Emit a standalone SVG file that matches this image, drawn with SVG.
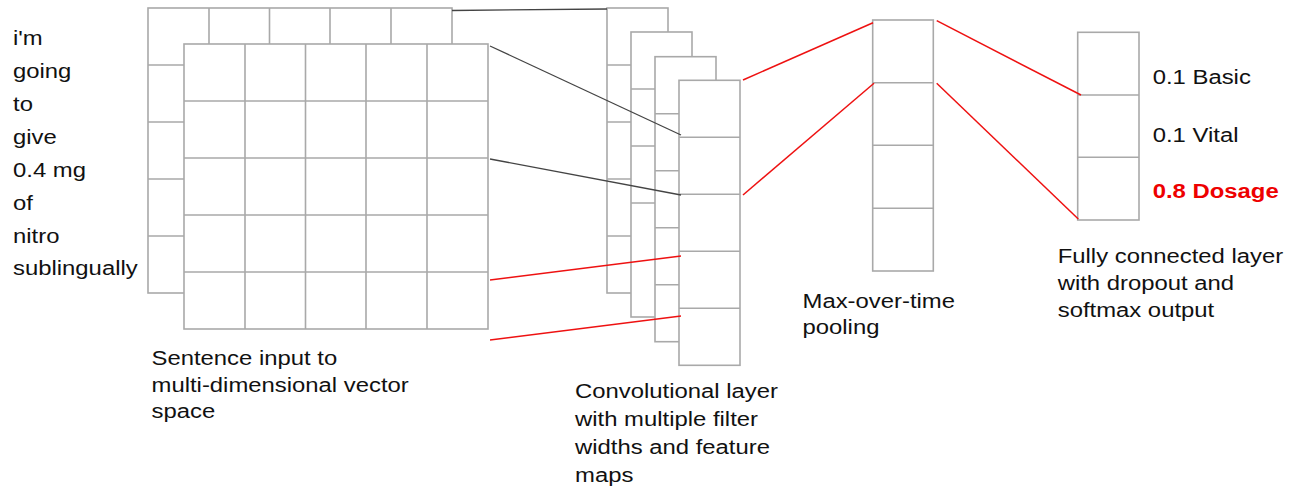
<svg xmlns="http://www.w3.org/2000/svg" width="1298" height="492" viewBox="0 0 1298 492">
<style>
.g{fill:#fff;stroke:#a9a9a9;stroke-width:1.6}
.l{fill:none;stroke:#a9a9a9;stroke-width:1.6}
.t{font-family:"Liberation Sans",Arial,sans-serif;font-size:21px;fill:#111}
.r{font-family:"Liberation Sans",Arial,sans-serif;font-size:21px;font-weight:bold;fill:#ee0000}
.k{stroke:#444;stroke-width:1.3;fill:none}
.e{stroke:#ee1111;stroke-width:1.5;fill:none}
</style>
<rect width="1298" height="492" fill="#fff"/>
<g id="words">
<text class="t" transform="matrix(1.137 0 0 1 13 0)"><tspan x="0" y="45">i'm</tspan><tspan x="0" y="78">going</tspan><tspan x="0" y="111">to</tspan><tspan x="0" y="144">give</tspan><tspan x="0" y="177">0.4 mg</tspan><tspan x="0" y="210">of</tspan><tspan x="0" y="243">nitro</tspan><tspan x="0" y="275.5">sublingually</tspan></text>
</g>
<g id="input">
<rect class="g" x="148" y="8" width="304" height="285"/>
<path class="l" d="M209 8V44M269.5 8V44M330 8V44M391 8V44M148 65H184M148 122H184M148 179H184M148 236H184"/>
<rect class="g" x="184" y="44" width="304" height="285"/>
<path class="l" d="M245 44V329M305.5 44V329M366 44V329M427 44V329M184 101H488M184 158H488M184 215H488M184 272H488"/>
<text class="t" transform="matrix(1.137 0 0 1 151.5 0)"><tspan x="0" y="365">Sentence input to</tspan><tspan x="0" y="391.7">multi-dimensional vector</tspan><tspan x="0" y="418.3">space</tspan></text>
</g>
<g id="conv">
<rect class="g" x="607" y="8" width="61" height="285"/>
<path class="l" d="M607 65H668M607 122H668M607 179H668M607 236H668"/>
<rect class="g" x="631" y="32" width="61" height="285"/>
<path class="l" d="M631 89H692M631 146H692M631 203H692"/>
<rect class="g" x="655" y="56.7" width="61" height="285"/>
<path class="l" d="M655 113.7H716M655 170.7H716M655 227.7H716M655 284.7H716"/>
<rect class="g" x="679" y="80.3" width="61" height="285"/>
<path class="l" d="M679 137.3H740M679 194.3H740M679 251.3H740M679 308.3H740"/>
<text class="t" transform="matrix(1.137 0 0 1 575 0)"><tspan x="0" y="397.7">Convolutional layer</tspan><tspan x="0" y="426">with multiple filter</tspan><tspan x="0" y="454.3">widths and feature</tspan><tspan x="0" y="482">maps</tspan></text>
</g>
<g id="pool">
<rect class="g" x="872.7" y="20" width="60.6" height="251"/>
<path class="l" d="M872.7 82.7H933.3M872.7 145.3H933.3M872.7 208.3H933.3"/>
<text class="t" transform="matrix(1.137 0 0 1 802.5 0)"><tspan x="0" y="308.3">Max-over-time</tspan><tspan x="0" y="334.3">pooling</tspan></text>
</g>
<g id="fc">
<rect class="g" x="1077.7" y="32.3" width="61.3" height="187.7"/>
<path class="l" d="M1077.7 95H1139M1077.7 157.3H1139"/>
<text class="t" transform="matrix(1.137 0 0 1 1152.7 0)"><tspan x="0" y="84.3">0.1 Basic</tspan><tspan x="0" y="141.7">0.1 Vital</tspan></text>
<text class="r" transform="matrix(1.137 0 0 1 1152.7 0)" x="0" y="198.3">0.8 Dosage</text>
<text class="t" transform="matrix(1.137 0 0 1 1057.7 0)"><tspan x="0" y="263.3">Fully connected layer</tspan><tspan x="0" y="290">with dropout and</tspan><tspan x="0" y="316.7">softmax output</tspan></text>
</g>
<g id="connectors">
<path class="k" d="M452 10.5L607 9"/>
<path class="k" d="M490 46L681 135"/>
<path class="k" d="M490 159L681 195"/>
<path class="e" d="M490 280L681 256"/>
<path class="e" d="M490 340L681 316"/>
<path class="e" d="M743 80L873 22.7"/>
<path class="e" d="M743 195L874 83.3"/>
<path class="e" d="M936.7 20.7L1081 95"/>
<path class="e" d="M936.7 83.3L1078.3 219"/>
</g>
</svg>
